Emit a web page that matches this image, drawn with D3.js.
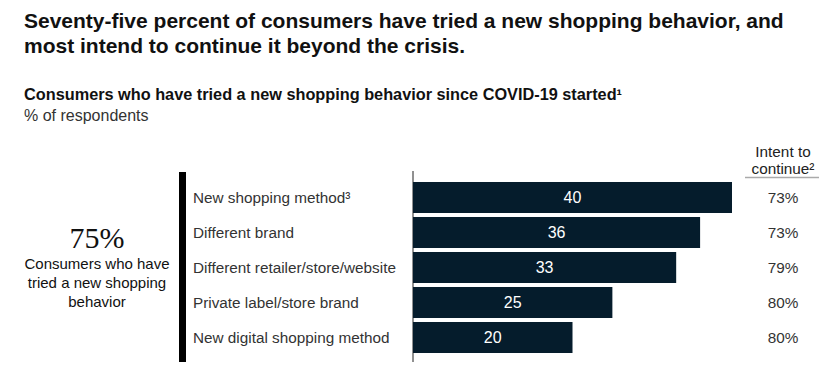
<!DOCTYPE html>
<html>
<head>
<meta charset="utf-8">
<script src="https://cdn.jsdelivr.net/npm/d3@7"></script>
<style>
  body { margin: 0; background: #fff; }
  svg { font-family: "Liberation Sans", Arial, sans-serif; }
</style>
</head>
<body>
<div id="chart"></div>
<script>
// Chart data
var categories = [
    "New shopping method³",
    "Different brand",
    "Different retailer/store/website",
    "Private label/store brand",
    "New digital shopping method"
];
var triedShare = [40, 36, 33, 25, 20];
var intentToContinue = ["73%", "73%", "79%", "80%", "80%"];

var titleLines = [
    "Seventy-five percent of consumers have tried a new shopping behavior, and",
    "most intend to continue it beyond the crisis."
];
var headlineValue = "75%";
var headlineLines = ["Consumers who have", "tried a new shopping", "behavior"];

const width = 833;
const height = 378;

const svg = d3.select('#chart').append('svg')
    .attr('width', width)
    .attr('height', height);

// Title
svg.selectAll('.title')
    .data(titleLines)
    .enter()
    .append('text')
    .attr('x', 24)
    .attr('y', (d, i) => 28 + i * 25)
    .attr('font-size', 21)
    .attr('font-weight', 'bold')
    .attr('fill', '#111')
    .text(d => d);

// Subtitle
svg.append('text')
    .attr('x', 24)
    .attr('y', 100)
    .attr('font-size', 16.3)
    .attr('font-weight', 'bold')
    .attr('fill', '#111')
    .text('Consumers who have tried a new shopping behavior since COVID-19 started¹');

svg.append('text')
    .attr('x', 24)
    .attr('y', 121)
    .attr('font-size', 16)
    .attr('fill', '#333')
    .text('% of respondents');

// Scales
var x = d3.scaleLinear()
    .domain([0, 40])
    .range([413, 732]);

var y = d3.scaleBand()
    .domain(categories)
    .range([180, 355])
    .paddingInner(0.114)
    .paddingOuter(0.057);

// Headline on the left
svg.append('text')
    .attr('x', 97)
    .attr('y', 248)
    .attr('text-anchor', 'middle')
    .style('font-family', '"Liberation Serif", "DejaVu Serif", serif')
    .attr('font-size', 30)
    .attr('fill', '#111')
    .text(headlineValue);

svg.selectAll('.headline')
    .data(headlineLines)
    .enter()
    .append('text')
    .attr('x', 97)
    .attr('y', (d, i) => 269 + i * 19)
    .attr('text-anchor', 'middle')
    .attr('font-size', 15)
    .attr('fill', '#111')
    .text(d => d);

// Thick black bracket
svg.append('rect')
    .attr('x', 179)
    .attr('y', 172)
    .attr('width', 7)
    .attr('height', 190)
    .attr('fill', '#000');

// Category labels
svg.selectAll('.cat')
    .data(categories)
    .enter()
    .append('text')
    .attr('x', 193)
    .attr('y', d => y(d) + y.bandwidth() / 2 + 5)
    .attr('font-size', 15.3)
    .attr('fill', '#333')
    .text(d => d);

// Axis line
svg.append('line')
    .attr('x1', x(0))
    .attr('x2', x(0))
    .attr('y1', 171)
    .attr('y2', 362)
    .attr('stroke', '#222')
    .attr('stroke-width', 1);

// Bars
svg.selectAll('.bar')
    .data(triedShare)
    .enter()
    .append('rect')
    .attr('x', x(0))
    .attr('y', (d, i) => y(categories[i]))
    .attr('width', d => x(d) - x(0))
    .attr('height', y.bandwidth())
    .attr('fill', '#051c2c');

// Bar values
svg.selectAll('.val')
    .data(triedShare)
    .enter()
    .append('text')
    .attr('x', d => (x(0) + x(d)) / 2)
    .attr('y', (d, i) => y(categories[i]) + y.bandwidth() / 2 + 5.5)
    .attr('text-anchor', 'middle')
    .attr('font-size', 16)
    .attr('fill', '#fff')
    .text(d => d);

// Intent to continue column
var header = svg.append('text')
    .attr('text-anchor', 'middle')
    .attr('font-size', 15.3)
    .attr('fill', '#222');
header.append('tspan').attr('x', 783).attr('y', 157).text('Intent to');
header.append('tspan').attr('x', 783).attr('y', 174).text('continue²');

svg.append('line')
    .attr('x1', 745)
    .attr('x2', 819)
    .attr('y1', 177.5)
    .attr('y2', 177.5)
    .attr('stroke', '#aaa')
    .attr('stroke-width', 1.5);

svg.selectAll('.intent')
    .data(intentToContinue)
    .enter()
    .append('text')
    .attr('x', 783)
    .attr('y', (d, i) => y(categories[i]) + y.bandwidth() / 2 + 5.5)
    .attr('text-anchor', 'middle')
    .attr('font-size', 15.3)
    .attr('fill', '#333')
    .text(d => d);
</script>
</body>
</html>
